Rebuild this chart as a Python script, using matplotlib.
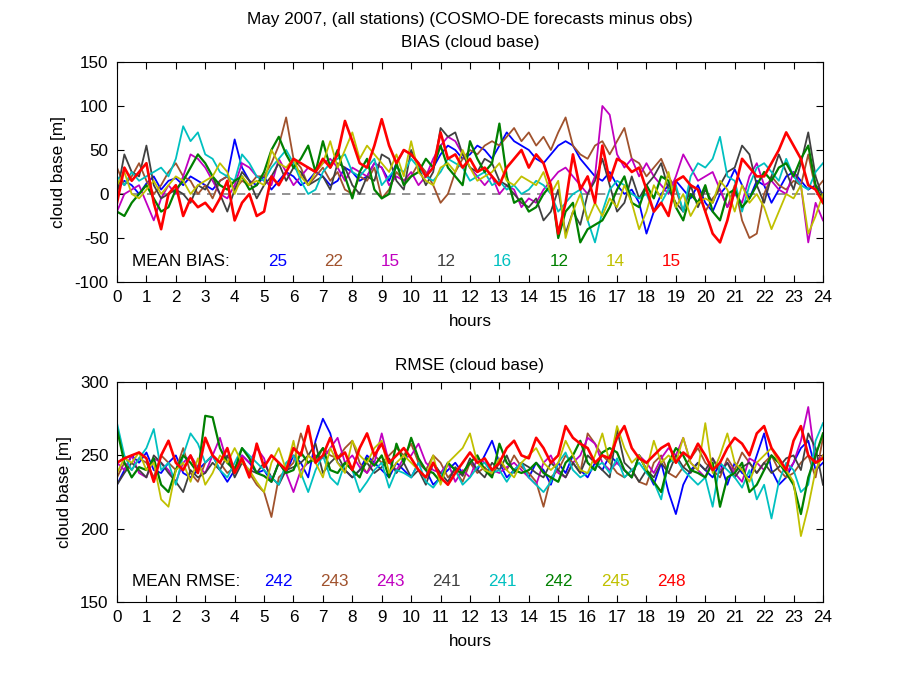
import numpy as np
import matplotlib
matplotlib.use("Agg")
import matplotlib.pyplot as plt

plt.rcParams['font.family'] = ['Liberation Sans', 'DejaVu Sans']
plt.rcParams['axes.unicode_minus'] = False

hours = np.arange(97) * 0.25
series_names = ["blue", "brown", "magenta", "gray", "cyan", "green", "yellow", "red"]
colors = ["#0000ff", "#a0522d", "#c000c0", "#404040", "#00c0c0", "#008000", "#c0c000", "#ff0000"]

mean_bias = [25, 22, 15, 12, 16, 12, 14, 15]
mean_rmse = [242, 243, 243, 241, 241, 242, 245, 248]

bias_blue = [5, 15, 10, 0, 12, 20, 5, 15, 18, 10, 20, 15, 10, 5, 15, 20, 62, 30, 15, 10,
             20, 5, 15, 25, 20, 10, 15, 25, 20, 10, 15, 30, 25, 15, 20, 35, 30, 15, 35, 50,
             45, 35, 20, 30, 45, 55, 50, 40, 45, 55, 50, 40, 55, 70, 60, 55, 50, 40, 35, 45,
             55, 60, 55, 40, 30, 20, 15, 25, 10, 0, 5, -10, -45, -20, 0, 10, 15, 5, -5, 10,
             -10, -20, 0, 10, 28, 10, -5, 15, 10, -10, 5, 20, 25, 15, 5, 10, 0]
bias_brown = [30, 10, 20, 35, 15, 0, 10, 25, 35, 20, 15, 0, 10, -5, 15, 20, 5, 15, 10, 20,
              20, 35, 55, 87, 40, 30, 10, 20, 30, 15, 25, 5, 0, 20, 15, 30, -5, 5, 25, 15,
              20, 35, 25, 10, -10, 0, 25, 40, 50, 45, 55, 60, 55, 65, 75, 60, 70, 55, 65, 50,
              70, 87, 55, 45, 40, 55, 60, 45, 60, 75, 40, 35, 20, 30, 40, 20, 5, -20, 10, 5,
              -20, -5, 5, -15, 10, -30, -50, -45, 0, 20, 10, 5, 15, 10, 45, 5, 15]
bias_magenta = [-20, 0, 5, 10, -10, -30, -5, 10, 0, 20, 45, 40, 30, 15, 0, -5, 10, 35, 30, 20,
                15, 10, 40, 25, 10, 20, 30, 25, 35, 40, 30, 15, 30, 25, 20, 35, 30, 10, 20, 15,
                25, 10, 20, 40, 55, 65, 60, 45, 30, 20, 10, 20, 0, 10, 5, -15, -5, -10, 5, 15,
                25, 30, 20, 10, 0, 20, 100, 90, 45, 30, 40, 20, 35, 20, 10, 0, 20, 45, 30, 15,
                20, 25, 5, -15, 0, -10, 20, 35, 10, 15, 5, 0, 25, 10, -55, -10, -30]
bias_gray = [0, 45, 25, 20, 55, 10, -5, 0, 5, 0, -10, 10, 5, 20, 0, -20, 5, 25, 15, -5,
             10, 20, 35, 15, 30, 25, 10, 15, 20, 5, 35, 30, 10, 0, 20, 15, 45, 40, 15, 5,
             50, 30, 10, 25, 75, 65, 70, 45, 30, 25, 40, 35, 15, 10, 0, -10, -15, -5, -30, -20,
             5, -45, -20, -35, 0, 15, 40, 10, -20, -10, 20, -5, 10, 20, 35, 5, -10, -20, 10, -15,
             5, -10, 10, 25, 30, 55, 45, 10, -10, 20, 45, 25, 5, 35, 70, 20, -5]
bias_cyan = [20, 10, 25, 15, 20, 25, 30, 20, 40, 77, 60, 70, 45, 40, 25, 20, 15, 45, 35, 20,
             15, 30, 40, 50, 35, 15, 0, 5, 25, 35, 40, 45, 25, 20, 30, 40, 10, 20, 30, 25,
             40, 30, 20, 15, 25, 40, 35, 30, 15, 20, 25, 10, 15, 5, 10, 0, 5, 15, 10, 0,
             -20, -10, 0, 5, -30, -55, -20, 5, 15, 10, 0, -5, 0, -20, -10, 5, 10, -20, 20, 35,
             30, 40, 65, 20, 15, -20, 10, 30, 35, 25, 15, 40, 20, 10, 5, 25, 35]
bias_green = [-20, -25, -10, 0, 10, -5, -20, -15, 5, 15, 30, 45, 35, 20, 10, 5, 15, 20, 5, 10,
              25, 50, 65, 45, 30, 40, 55, 25, 60, 30, 50, 20, -5, 25, 40, 5, -5, 0, 35, 10,
              20, 25, 40, 30, 55, 30, 20, 10, 60, 40, 25, 35, 80, 20, -10, -5, -20, -15, 0, 10,
              -50, -20, -10, -55, -40, -35, -30, -15, 5, 20, -10, -15, 10, -5, 20, 15, -15, -30, 0, -10,
              10, -20, -30, 0, 5, -15, -5, 10, 25, 15, 30, 35, 20, 40, 55, 10, -10]
bias_yellow = [10, 25, 0, -5, 5, 15, 0, 10, 20, 15, 0, 10, 15, 20, 35, 25, 0, 20, 10, 15,
               10, 50, 35, 30, 40, 20, 10, 25, 35, 60, 30, 50, 70, 40, 55, 45, 35, 25, 45, 20,
               60, 25, 15, 10, 30, 35, 25, 50, 30, 15, 20, 25, 35, 15, 10, 20, 15, 10, 25, 0,
               15, -50, -20, 0, -30, -10, -25, -5, -15, 10, -10, -40, -20, 10, -5, 25, -15, 0, -25, -10,
               -5, -10, 15, 5, -20, 10, -10, 0, -15, -40, -20, 0, -5, 10, -45, -25, 0]
bias_red = [-10, 30, 15, 25, 35, -10, -40, 0, 10, -25, -5, -15, -10, -20, -5, 15, -30, -10, 0, -25,
            -20, 20, 10, 25, 40, 35, 30, 25, 40, 30, 45, 83, 60, 35, 30, 55, 85, 55, 35, 50,
            45, 35, 20, 30, 70, 40, 45, 30, 40, 25, 30, 20, 10, 30, 40, 50, 30, 45, 35, 10,
            -45, -10, 45, 5, 20, -10, 55, 15, 40, 35, 25, 30, 5, -20, -10, -25, 15, 20, 10, 5,
            -20, -45, -55, -30, 5, 40, 30, 20, 20, 35, 50, 70, 55, 40, 10, 5, -10]

rmse_blue = [230, 240, 250, 245, 252, 240, 238, 245, 250, 238, 235, 240, 245, 250, 240, 232,
             240, 250, 245, 238, 240, 232, 245, 238, 250, 245, 235, 260, 275, 265, 245, 240,
             235, 240, 250, 245, 240, 235, 245, 240, 235, 245, 240, 230, 235, 240, 245, 238,
             245, 240, 250, 260, 245, 235, 240, 245, 235, 245, 240, 230, 245, 238, 250, 240,
             235, 245, 240, 250, 245, 240, 235, 250, 240, 230, 245, 225, 210, 230, 240, 245,
             240, 235, 245, 230, 245, 238, 235, 250, 265, 240, 230, 235, 245, 255, 260, 240, 245]
rmse_brown = [235, 245, 240, 248, 245, 235, 250, 245, 240, 255, 238, 232, 245, 250, 245, 238,
              242, 248, 238, 230, 225, 208, 235, 240, 245, 265, 250, 245, 255, 250, 248, 255,
              260, 245, 238, 250, 245, 250, 255, 250, 258, 245, 240, 250, 245, 235, 240, 232,
              245, 238, 242, 236, 245, 240, 250, 242, 238, 232, 215, 235, 240, 250, 245, 238,
              265, 258, 250, 245, 238, 235, 240, 232, 230, 245, 250, 238, 235, 242, 248, 255,
              245, 240, 235, 248, 240, 252, 245, 238, 245, 250, 240, 235, 238, 245, 250, 235, 262]
rmse_magenta = [245, 240, 250, 238, 235, 248, 245, 240, 232, 245, 250, 242, 238, 250, 262, 245,
                240, 250, 245, 255, 248, 232, 245, 238, 225, 240, 245, 250, 248, 255, 262, 245,
                250, 242, 238, 245, 265, 245, 240, 248, 250, 258, 245, 240, 238, 245, 232, 240,
                235, 248, 245, 240, 238, 242, 245, 240, 235, 230, 245, 250, 238, 235, 245, 250,
                262, 258, 245, 240, 245, 240, 235, 250, 245, 238, 248, 255, 250, 262, 245, 240,
                235, 248, 240, 245, 238, 232, 248, 245, 240, 250, 245, 238, 245, 260, 283, 245, 250]
rmse_gray = [230, 238, 245, 240, 235, 250, 245, 238, 232, 225, 240, 235, 238, 245, 240, 250,
             235, 245, 240, 238, 245, 235, 230, 240, 242, 245, 250, 258, 238, 245, 250, 240,
             235, 240, 245, 238, 242, 248, 238, 245, 235, 240, 230, 245, 238, 232, 242, 236,
             248, 240, 235, 245, 240, 250, 238, 245, 242, 238, 235, 245, 240, 235, 245, 238,
             250, 245, 240, 235, 268, 245, 240, 232, 240, 235, 245, 238, 250, 242, 238, 245,
             240, 248, 238, 245, 235, 242, 245, 238, 245, 238, 242, 248, 250, 240, 265, 255, 230]
rmse_cyan = [272, 250, 240, 248, 255, 268, 240, 245, 230, 250, 265, 258, 245, 250, 240, 235,
             245, 255, 250, 245, 240, 235, 230, 245, 250, 238, 225, 240, 250, 235, 230, 245,
             240, 225, 232, 240, 245, 228, 240, 238, 235, 245, 232, 228, 235, 245, 240, 230,
             235, 242, 245, 238, 240, 232, 240, 245, 235, 230, 225, 232, 245, 252, 240, 235,
             238, 242, 245, 238, 248, 235, 240, 245, 238, 232, 220, 245, 248, 240, 235, 230,
             235, 215, 245, 240, 235, 228, 240, 220, 230, 207, 232, 245, 240, 225, 230, 260, 272]
rmse_green = [268, 245, 235, 242, 240, 248, 230, 225, 240, 250, 245, 238, 277, 276, 255, 245,
              240, 255, 248, 238, 236, 232, 245, 238, 240, 252, 245, 248, 255, 240, 238, 245,
              240, 235, 248, 243, 250, 235, 258, 245, 262, 248, 240, 238, 232, 245, 240, 238,
              245, 250, 240, 235, 258, 245, 240, 238, 240, 245, 238, 235, 232, 245, 250, 260,
              245, 240, 252, 255, 252, 240, 235, 250, 240, 232, 225, 245, 255, 250, 240, 238,
              235, 245, 215, 235, 238, 245, 225, 230, 240, 250, 245, 238, 230, 210, 235, 250, 265]
rmse_yellow = [238, 248, 245, 252, 240, 245, 220, 215, 240, 245, 232, 248, 230, 238, 250, 245,
               255, 245, 240, 232, 225, 245, 255, 240, 260, 235, 250, 245, 235, 255, 245, 238,
               260, 250, 245, 255, 260, 238, 245, 250, 245, 240, 235, 250, 230, 245, 250, 255,
               265, 245, 240, 238, 248, 240, 235, 245, 250, 255, 245, 240, 245, 260, 250, 240,
               238, 250, 265, 245, 270, 255, 245, 250, 240, 260, 245, 250, 245, 262, 245, 240,
               272, 238, 250, 265, 245, 240, 232, 245, 250, 255, 245, 240, 232, 195, 215, 240, 250]
rmse_red = [245, 248, 250, 252, 248, 232, 250, 260, 245, 240, 250, 238, 262, 250, 245, 255,
            238, 248, 235, 258, 242, 250, 245, 240, 255, 250, 270, 245, 250, 262, 248, 252,
            240, 255, 265, 250, 258, 245, 250, 255, 248, 240, 235, 245, 235, 230, 238, 245,
            252, 245, 248, 240, 245, 255, 260, 250, 248, 262, 255, 245, 250, 270, 262, 258,
            255, 245, 250, 248, 262, 270, 255, 248, 245, 250, 255, 258, 245, 252, 248, 258,
            250, 240, 245, 255, 262, 258, 250, 265, 270, 255, 248, 240, 260, 270, 250, 245, 248]

bias_all = [bias_blue, bias_brown, bias_magenta, bias_gray, bias_cyan, bias_green, bias_yellow, bias_red]
rmse_all = [rmse_blue, rmse_brown, rmse_magenta, rmse_gray, rmse_cyan, rmse_green, rmse_yellow, rmse_red]

xticks = list(range(0, 25))

fig = plt.figure(figsize=(9, 6.75), dpi=100)
ax1 = fig.add_axes([0.13, 0.5822, 0.7844, 0.326])
ax2 = fig.add_axes([0.13, 0.108, 0.7844, 0.326])

FS = 12.3
LW = {"#ff0000": 1.9, "#008000": 1.6}


def style(ax, ylim, yticks):
    ax.set_xlim(0, 24)
    ax.set_ylim(*ylim)
    ax.set_xticks(xticks)
    ax.set_yticks(yticks)
    ax.tick_params(direction='in', top=True, right=True, length=5, width=0.8, labelsize=FS, pad=6)
    for s in ax.spines.values():
        s.set_linewidth(0.8)
    ax.set_xlabel('hours', fontsize=FS, labelpad=6)
    ax.set_ylabel('cloud base [m]', fontsize=FS, labelpad=6)


ax1.axhline(0, color='#808080', linestyle=(0, (5, 4)), linewidth=1.2, zorder=1)
for vals, c in zip(bias_all, colors):
    ax1.plot(hours, vals, color=c, linewidth=LW.get(c, 1.3), zorder=2)
style(ax1, (-100, 150), [-100, -50, 0, 50, 100, 150])
ax1.set_title('May 2007, (all stations) (COSMO-DE forecasts minus obs)\nBIAS (cloud base)',
              fontsize=FS, linespacing=1.6, pad=11)
ax1.text(0.51, -77, 'MEAN BIAS:', fontsize=FS, ha='left', va='center')
for i, (m, c) in enumerate(zip(mean_bias, colors)):
    ax1.text(5.47 + 1.91 * i, -77, str(m), color=c, fontsize=FS, ha='center', va='center')

for vals, c in zip(rmse_all, colors):
    ax2.plot(hours, vals, color=c, linewidth=LW.get(c, 1.3), zorder=2)
style(ax2, (150, 300), [150, 200, 250, 300])
ax2.set_title('RMSE (cloud base)', fontsize=FS, pad=9)
ax2.text(0.51, 164, 'MEAN RMSE:', fontsize=FS, ha='left', va='center')
for i, (m, c) in enumerate(zip(mean_rmse, colors)):
    ax2.text(5.47 + 1.91 * i, 164, str(m), color=c, fontsize=FS, ha='center', va='center')

fig.savefig('out.png', dpi=100)
